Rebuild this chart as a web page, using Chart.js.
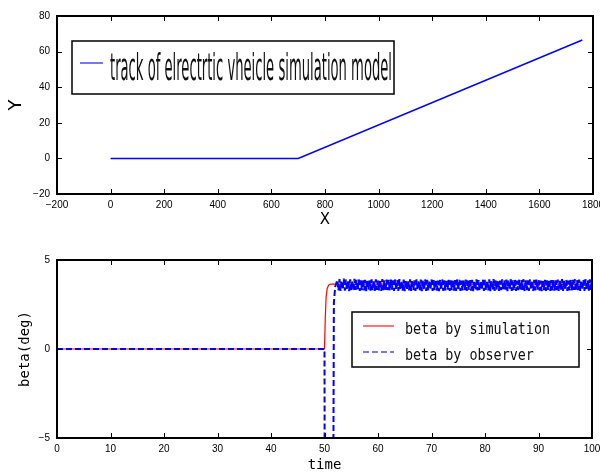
<!DOCTYPE html>
<html>
<head>
<meta charset="utf-8">
<script src="https://cdn.jsdelivr.net/npm/chart.js@4.4.1/dist/chart.umd.min.js"></script>
<style>
  body { margin: 0; background: #fff; }
  .panel { position: absolute; left: 0; width: 600px; height: 237px; }
  #top { top: 0; }
  #bottom { top: 237px; }
</style>
</head>
<body>
<div class="panel" id="top"><canvas id="trackChart"></canvas></div>
<div class="panel" id="bottom"><canvas id="betaChart"></canvas></div>
<script>
// Top plot: track of the vehicle
const trackX = [0, 700, 1760];
const trackY = [0, 0, 66.5];
const trackXTicks = [-200, 0, 200, 400, 600, 800, 1000, 1200, 1400, 1600, 1800];
const trackYTicks = [-20, 0, 20, 40, 60, 80];
const trackLabel = 'track of elrectrtic vheicle simulation model';

// Bottom plot: side slip angle
const simTime = [0, 50, 50.15, 50.3, 50.5, 50.8, 51.2, 100];
const simBeta = [0, 0, 1.8, 2.9, 3.4, 3.6, 3.65, 3.65];
const obsTime = [0, 50, 50.05, 51.6, 51.75, 52.0];
const obsBeta = [0, 0, -12, -12, 2.6, 3.5];
// observer ripple after it settles, sampled every 0.2 s from t = 52.4
const rippleStart = 52.4;
const rippleStep = 0.2;
const obsRipple = [
  3.88, 3.29, 3.93, 3.26, 3.85, 3.33, 3.95, 3.28, 3.90, 3.31,
  3.87, 3.25, 3.92, 3.30, 3.84, 3.27, 3.94, 3.32, 3.89, 3.28,
  3.91, 3.26, 3.86, 3.31, 3.93, 3.29, 3.88, 3.25, 3.90, 3.33,
  3.85, 3.28, 3.92, 3.30, 3.87, 3.26, 3.91, 3.32, 3.84, 3.29,
  3.89, 3.27, 3.93, 3.31, 3.86, 3.25, 3.90, 3.30, 3.88, 3.28,
  3.92, 3.33, 3.85, 3.27, 3.91, 3.29, 3.87, 3.26, 3.93, 3.31,
  3.86, 3.28, 3.90, 3.25, 3.88, 3.32, 3.84, 3.29, 3.92, 3.27,
  3.89, 3.30, 3.86, 3.26, 3.91, 3.33, 3.87, 3.28, 3.90, 3.25,
  3.85, 3.31, 3.92, 3.27, 3.88, 3.29, 3.86, 3.32, 3.91, 3.26,
  3.87, 3.30, 3.90, 3.28, 3.84, 3.25, 3.89, 3.31, 3.92, 3.27,
  3.86, 3.29, 3.91, 3.33, 3.88, 3.26, 3.85, 3.30, 3.90, 3.28,
  3.87, 3.27, 3.92, 3.31, 3.89, 3.26, 3.84, 3.29, 3.91, 3.30,
  3.90, 3.26, 3.85, 3.32, 3.93, 3.28, 3.88, 3.25, 3.86, 3.31,
  3.92, 3.29, 3.87, 3.27, 3.84, 3.33, 3.90, 3.26, 3.89, 3.30,
  3.86, 3.28, 3.91, 3.25, 3.88, 3.31, 3.93, 3.27, 3.85, 3.32,
  3.89, 3.26, 3.84, 3.30, 3.92, 3.28, 3.87, 3.33, 3.90, 3.25,
  3.88, 3.31, 3.93, 3.27, 3.86, 3.29, 3.91, 3.26, 3.84, 3.30,
  3.90, 3.28, 3.87, 3.32, 3.92, 3.25, 3.89, 3.30, 3.85, 3.27,
  3.91, 3.33, 3.86, 3.26, 3.88, 3.29, 3.93, 3.31, 3.87, 3.28,
  3.84, 3.25, 3.90, 3.30, 3.89, 3.27, 3.86, 3.32, 3.92, 3.26,
  3.87, 3.29, 3.91, 3.28, 3.85, 3.31, 3.90, 3.25, 3.88, 3.33,
  3.93, 3.27, 3.86, 3.30, 3.89, 3.26, 3.84, 3.29, 3.91, 3.28,
  3.88, 3.32, 3.92, 3.25, 3.87, 3.30, 3.90, 3.27, 3.85, 3.31,
  3.89, 3.26, 3.93, 3.29, 3.86, 3.28, 3.91, 3.32, 3.88, 3.30
];
const timeTicks = [0, 10, 20, 30, 40, 50, 60, 70, 80, 90, 100];
const betaTicks = [-5, 0, 5];
const betaLabels = ['beta by simulation', 'beta by observer'];

const pairs = (xs, ys) => xs.map((x, i) => ({ x: x, y: ys[i] }));
const obsData = pairs(obsTime, obsBeta).concat(
  obsRipple.map((v, i) => ({ x: rippleStart + i * rippleStep, y: v }))
);

const tickFont = { family: 'Liberation Sans', size: 10 };
const minus = v => String(v).replace('-', '\u2212');

function fixedScale(vals, size) {
  return {
    afterBuildTicks: s => { s.ticks = vals.map(v => ({ value: v })); },
    afterFit: s => {
      if (s.isHorizontal()) s.height = size; else s.width = size;
      s.paddingLeft = s.paddingRight = s.paddingTop = s.paddingBottom = 0;
    }
  };
}

// box frame with inward tick marks on all four sides
const frameTicks = {
  id: 'frameTicks',
  afterDatasetsDraw(chart) {
    const { ctx, chartArea: a, scales: { x, y } } = chart;
    ctx.save();
    ctx.strokeStyle = '#000';
    ctx.lineWidth = 1;
    ctx.beginPath();
    x.ticks.forEach(t => {
      const px = Math.round(x.getPixelForValue(t.value)) + 0.5;
      ctx.moveTo(px, a.bottom); ctx.lineTo(px, a.bottom - 5);
      ctx.moveTo(px, a.top); ctx.lineTo(px, a.top + 5);
    });
    y.ticks.forEach(t => {
      const py = Math.round(y.getPixelForValue(t.value)) + 0.5;
      ctx.moveTo(a.left, py); ctx.lineTo(a.left + 5, py);
      ctx.moveTo(a.right, py); ctx.lineTo(a.right - 5, py);
    });
    ctx.stroke();
    ctx.lineWidth = 2;
    ctx.strokeRect(a.left, a.top, a.right - a.left, a.bottom - a.top);
    ctx.restore();
  }
};

// legend drawn inside the plot in a framed box
const boxLegend = {
  id: 'boxLegend',
  afterDraw(chart, args, opts) {
    const ctx = chart.ctx;
    const [bx, by, bw, bh] = opts.box;
    ctx.save();
    ctx.fillStyle = '#fff';
    ctx.fillRect(bx, by, bw, bh);
    ctx.strokeStyle = '#000';
    ctx.lineWidth = 1.5;
    ctx.strokeRect(bx, by, bw, bh);
    ctx.font = opts.font;
    const first = chart.data.datasets[0].label;
    const sx = opts.textWidth / ctx.measureText(first).width;
    opts.rows.forEach((r, i) => {
      const ds = chart.data.datasets[i];
      ctx.beginPath();
      ctx.setLineDash(ds.borderDash || []);
      ctx.strokeStyle = r.color;
      ctx.lineWidth = 2;
      ctx.moveTo(opts.lineX[0], r.y);
      ctx.lineTo(opts.lineX[1], r.y);
      ctx.stroke();
      ctx.setLineDash([]);
      ctx.save();
      ctx.translate(opts.textX, r.base);
      ctx.scale(sx, 1);
      ctx.fillStyle = '#111';
      ctx.textBaseline = 'alphabetic';
      ctx.fillText(ds.label, 0, 0);
      ctx.restore();
    });
    ctx.restore();
  }
};

new Chart(document.getElementById('trackChart'), {
  type: 'line',
  data: {
    datasets: [{
      label: trackLabel,
      data: pairs(trackX, trackY),
      borderColor: '#0000ff',
      borderWidth: 1.5,
      pointRadius: 0,
      tension: 0
    }]
  },
  options: {
    responsive: true,
    maintainAspectRatio: false,
    animation: false,
    layout: { padding: { left: 0, top: 16, right: 7, bottom: 0 } },
    scales: {
      x: Object.assign({
        type: 'linear', min: -200, max: 1800,
        grid: { display: false, drawTicks: false },
        border: { display: false },
        ticks: { font: tickFont, color: '#000', padding: 5, maxRotation: 0, callback: minus },
        title: { display: true, text: 'X', color: '#000', font: { family: 'DejaVu Sans', size: 15 }, padding: { top: 0, bottom: 8 } }
      }, fixedScale(trackXTicks, 43)),
      y: Object.assign({
        min: -20, max: 80,
        grid: { display: false, drawTicks: false },
        border: { display: false },
        ticks: { font: tickFont, color: '#000', padding: 7, callback: minus },
        title: { display: true, text: 'Y', color: '#000', font: { family: 'DejaVu Sans', size: 18 }, padding: { top: 6, bottom: 0 } }
      }, fixedScale(trackYTicks, 57))
    },
    plugins: {
      legend: { display: false },
      tooltip: { enabled: false },
      boxLegend: {
        box: [72, 41, 322, 53],
        font: '38px "DejaVu Sans"',
        textWidth: 282,
        textX: 110,
        lineX: [80, 103],
        rows: [{ y: 63, base: 80, color: 'rgba(60,60,255,0.7)' }]
      }
    }
  },
  plugins: [frameTicks, boxLegend]
});

new Chart(document.getElementById('betaChart'), {
  type: 'line',
  data: {
    datasets: [{
      label: betaLabels[0],
      data: pairs(simTime, simBeta),
      borderColor: '#ff0000',
      borderWidth: 1.2,
      pointRadius: 0,
      tension: 0,
      order: 2
    }, {
      label: betaLabels[1],
      data: obsData,
      borderColor: '#0000ff',
      borderWidth: 2,
      borderDash: [6, 3],
      borderJoinStyle: 'bevel',
      borderCapStyle: 'butt',
      pointRadius: 0,
      tension: 0,
      order: 1
    }]
  },
  options: {
    responsive: true,
    maintainAspectRatio: false,
    animation: false,
    layout: { padding: { left: 0, top: 23, right: 8, bottom: 0 } },
    scales: {
      x: Object.assign({
        type: 'linear', min: 0, max: 100,
        grid: { display: false, drawTicks: false },
        border: { display: false },
        ticks: { font: tickFont, color: '#000', padding: 5, maxRotation: 0 },
        title: { display: true, text: 'time', color: '#000', font: { family: 'DejaVu Sans Mono', size: 14 }, padding: { top: 0, bottom: 0 } }
      }, fixedScale(timeTicks, 36)),
      y: Object.assign({
        min: -5, max: 5,
        grid: { display: false, drawTicks: false },
        border: { display: false },
        ticks: { font: tickFont, color: '#000', padding: 7, callback: minus },
        title: { display: true, text: 'beta(deg)', color: '#000', font: { family: 'DejaVu Sans Mono', size: 14 }, padding: { top: 17, bottom: 0 } }
      }, fixedScale(betaTicks, 57))
    },
    plugins: {
      legend: { display: false },
      tooltip: { enabled: false },
      boxLegend: {
        box: [352, 75, 227, 55],
        font: '16px "DejaVu Sans Mono"',
        textWidth: 145,
        textX: 405,
        lineX: [363, 394],
        rows: [
          { y: 89, base: 97, color: 'rgba(255,60,60,0.7)' },
          { y: 115, base: 123, color: 'rgba(60,60,255,0.7)' }
        ]
      }
    }
  },
  plugins: [frameTicks, boxLegend]
});
</script>
</body>
</html>
